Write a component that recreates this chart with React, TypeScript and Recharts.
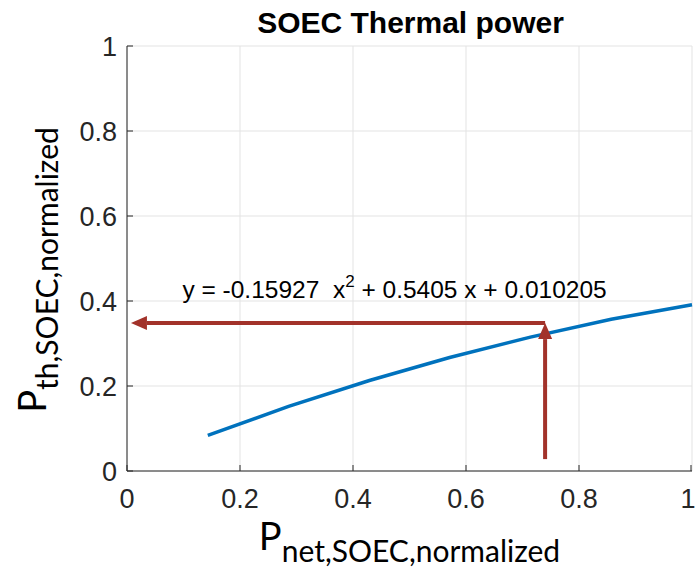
import React from 'react';
import { LineChart, Line, XAxis, YAxis, CartesianGrid, ReferenceLine, ReferenceDot, Label } from 'recharts';

// normalized net SOEC power vs thermal power
const netPower = [0.143, 0.286, 0.429, 0.571, 0.714, 0.857, 1.0];
const thermalPower = [0.084, 0.152, 0.213, 0.267, 0.315, 0.357, 0.391];

const tickValues = [0, 0.2, 0.4, 0.6, 0.8, 1];
const tickLabels = ['0', '0.2', '0.4', '0.6', '0.8', '1'];

const chartTitle = 'SOEC Thermal power';
const equationParts = ['y = -0.15927\u00A0\u00A0x', '2', ' + 0.5405 x + 0.010205'];
const equationPos = { x: 0.4735, y: 0.407 };

// lookup arrows: up from the x axis to the curve, then left to the y axis
const lookupX = 0.74;
const lookupY = 0.348;
const arrowStartY = 0.028;
const arrowEndX = 0.007;

const data = netPower.map((x, i) => ({ x, y: thermalPower[i] }));

const AXIS = '#262626';
const TICK_FONT = 'Liberation Sans, Arial, sans-serif';
const LABEL_FONT = 'Lato, Open Sans, sans-serif';
const ARROW = '#A2322A';

const fmt = (v: number) => tickLabels[tickValues.indexOf(v)] ?? String(v);

const BottomTick = ({ x, y, payload }: any) => (
  <g>
    <line x1={x} y1={y} x2={x} y2={y - 6} stroke={AXIS} />
    <text
      x={payload.value === 1 ? x - 3 : x}
      y={y + 37}
      textAnchor="middle"
      fontSize={27}
      fontFamily={TICK_FONT}
      fill={AXIS}
    >
      {fmt(payload.value)}
    </text>
  </g>
);

const LeftTick = ({ x, y, payload }: any) => (
  <g>
    <line x1={x} y1={y} x2={x + 6} y2={y} stroke={AXIS} />
    <text x={x - 10} y={y + 10} textAnchor="end" fontSize={27} fontFamily={TICK_FONT} fill={AXIS}>
      {fmt(payload.value)}
    </text>
  </g>
);

const TopTick = ({ x, y }: any) => <line x1={x} y1={y} x2={x} y2={y + 6} stroke={AXIS} />;
const RightTick = ({ x, y }: any) => <line x1={x} y1={y} x2={x - 6} y2={y} stroke={AXIS} />;

const Arrow = (props: any) => {
  const { x1, y1, x2, y2 } = props;
  const dx = x2 - x1;
  const dy = y2 - y1;
  const len = Math.hypot(dx, dy) || 1;
  const ux = dx / len;
  const uy = dy / len;
  const head = 16;
  const half = 7;
  const bx = x2 - ux * head;
  const by = y2 - uy * head;
  return (
    <g>
      <line x1={x1} y1={y1} x2={bx} y2={by} stroke={ARROW} strokeWidth={4} />
      <polygon
        points={`${x2},${y2} ${bx - uy * half},${by + ux * half} ${bx + uy * half},${by - ux * half}`}
        fill={ARROW}
      />
    </g>
  );
};

export default function App() {
  return (
    <div style={{ position: 'absolute', left: 0, top: 0, background: '#fff' }}>
      <LineChart width={695} height={569} data={data} margin={{ top: 46, right: 3, bottom: 0, left: 0 }}>
        <CartesianGrid stroke="#E3E3E3" strokeWidth={1} />
        <XAxis
          dataKey="x"
          type="number"
          domain={[0, 1]}
          ticks={tickValues}
          height={98}
          tickSize={0}
          tickMargin={0}
          tickLine={false}
          axisLine={{ stroke: AXIS }}
          tick={<BottomTick />}
        >
          <Label
            content={(p: any) => {
              const vb = p.viewBox;
              const cx = vb.x + vb.width / 2;
              return (
                <g>
                  <text x={cx} y={550} textAnchor="middle" fontFamily={LABEL_FONT} fill="#000">
                    <tspan fontSize={38}>P</tspan>
                    <tspan fontSize={30} dy={12}>net,SOEC,normalized</tspan>
                  </text>
                  <text
                    x={cx + 1}
                    y={33}
                    textAnchor="middle"
                    fontSize={30}
                    fontWeight="bold"
                    fontFamily={TICK_FONT}
                    fill="#000"
                  >
                    {chartTitle}
                  </text>
                </g>
              );
            }}
          />
        </XAxis>
        <XAxis
          xAxisId="top"
          orientation="top"
          type="number"
          domain={[0, 1]}
          ticks={tickValues}
          height={0}
          tickSize={0}
          tickMargin={0}
          tickLine={false}
          axisLine={{ stroke: AXIS }}
          tick={<TopTick />}
        />
        <YAxis
          type="number"
          domain={[0, 1]}
          ticks={tickValues}
          width={127}
          tickSize={0}
          tickMargin={0}
          tickLine={false}
          axisLine={{ stroke: AXIS }}
          tick={<LeftTick />}
        >
          <Label
            content={() => (
              <text transform="translate(46, 270) rotate(-90)" textAnchor="middle" fontFamily={LABEL_FONT} fill="#000">
                <tspan fontSize={38}>P</tspan>
                <tspan fontSize={30} dy={12}>th,SOEC,normalized</tspan>
              </text>
            )}
          />
        </YAxis>
        <YAxis
          yAxisId="right"
          orientation="right"
          type="number"
          domain={[0, 1]}
          ticks={tickValues}
          width={0}
          tickSize={0}
          tickMargin={0}
          tickLine={false}
          axisLine={{ stroke: AXIS }}
          tick={<RightTick />}
        />
        <Line
          type="linear"
          dataKey="y"
          stroke="#0072BD"
          strokeWidth={3.5}
          dot={false}
          isAnimationActive={false}
        />
        <ReferenceLine
          segment={[{ x: lookupX, y: arrowStartY }, { x: lookupX, y: lookupY }]}
          shape={<Arrow />}
        />
        <ReferenceLine
          segment={[{ x: lookupX, y: lookupY }, { x: arrowEndX, y: lookupY }]}
          shape={<Arrow />}
        />
        <ReferenceDot
          x={equationPos.x}
          y={equationPos.y}
          r={0}
          fill="none"
          stroke="none"
          label={(p: any) => {
            const vb = p.viewBox;
            return (
              <text x={vb.x} y={vb.y} textAnchor="middle" fontSize={24.5} fontFamily={TICK_FONT} fill="#000">
                <tspan>{equationParts[0]}</tspan>
                <tspan fontSize={17} dy={-11}>{equationParts[1]}</tspan>
                <tspan dy={11}>{equationParts[2]}</tspan>
              </text>
            );
          }}
        />
      </LineChart>
    </div>
  );
}
